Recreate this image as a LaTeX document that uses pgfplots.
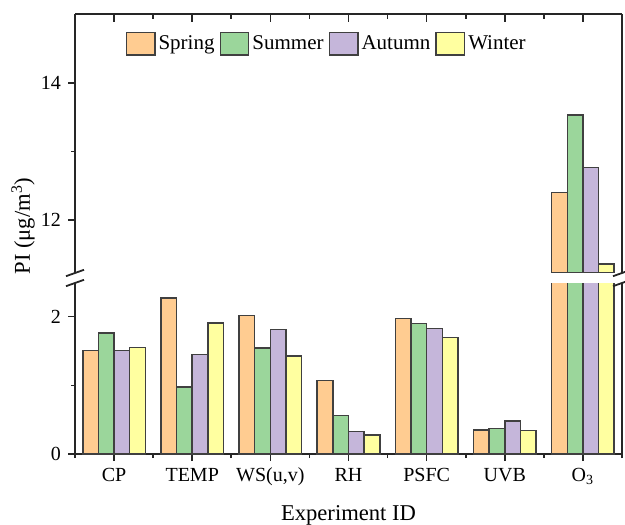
\documentclass[border=0pt]{standalone}
\usepackage{fontspec}
\setmainfont{Liberation Serif}
\usepackage{pgfplots}
\pgfplotsset{compat=1.18}
\definecolor{cspr}{RGB}{255,204,145}
\definecolor{csum}{RGB}{155,214,155}
\definecolor{caut}{RGB}{197,182,218}
\definecolor{cwin}{RGB}{255,255,160}
\begin{document}
\begin{tikzpicture}[x=1pt,y=1pt]
\useasboundingbox (-37.5pt,-35pt) rectangle (275pt,227pt);
\pgfplotsset{
  common/.style={scale only axis, width=273.5pt, xmin=-0.5, xmax=6.5,
    axis line style={line width=1.1pt, black!85},
    /pgf/number format/assume math mode=true,
    tick label style={font=\fontsize{10}{12}\selectfont},
    major tick length=3.5pt, minor tick length=2pt,
    tick style={line width=0.8pt, black!85},
  },
  lg/.style={legend image code/.code={\draw[##1, line width=0.7pt] (0pt,-5.65pt) rectangle (14.25pt,5.65pt);}},
  bs/.style={draw=black!75, line width=0.75pt},
}
% lower axis
\begin{axis}[common, ybar=0pt, bar width=0.2, at={(0pt,0pt)}, anchor=south west, height=85.5pt,
  ymin=0, ymax=2.49,
  axis x line*=bottom, axis y line*=box, ytick pos=left, tick align=outside,
  xtick={0,...,6},
  xticklabels={CP,TEMP,{WS(u,v)},RH,PSFC,UVB,O\textsubscript{3}},
  minor xtick={-0.5,0.5,...,6.5},
  ytick={0,2}, minor ytick={1},
  xlabel={Experiment ID},
  xlabel style={font=\fontsize{11.3}{13}\selectfont, yshift=-3pt}]
\addplot[bs, fill=cspr] coordinates {(0,1.51) (1,2.27) (2,2.02) (3,1.07) (4,1.97) (5,0.35) (6,12.40)};
\addplot[bs, fill=csum] coordinates {(0,1.76) (1,0.975) (2,1.54) (3,0.56) (4,1.90) (5,0.37) (6,13.53)};
\addplot[bs, fill=caut] coordinates {(0,1.51) (1,1.45) (2,1.81) (3,0.33) (4,1.83) (5,0.48) (6,12.77)};
\addplot[bs, fill=cwin] coordinates {(0,1.55) (1,1.91) (2,1.43) (3,0.28) (4,1.70) (5,0.34) (6,11.36)};
\end{axis}
% upper axis (bars, lines, legend, top ticks)
\begin{axis}[common, ybar=0pt, bar width=0.2, at={(0pt,90.5pt)}, anchor=south west, height=129.4pt,
  ymin=11.23, ymax=15,
  axis x line*=top, axis y line*=box,
  xtick=\empty, ytick=\empty,
  legend columns=4,
  legend style={at={(axis description cs:0.4583,0.886)}, anchor=center, draw=none, fill=none,
    inner sep=0pt,
    font=\fontsize{10.5}{12}\selectfont,
    nodes={inner xsep=0pt},
    /tikz/every odd column/.append style={column sep=1.5pt},
    /tikz/every even column/.append style={column sep=2.5pt}},
  legend cell align=left]
\addplot[bs, lg, fill=cspr] coordinates {(6,12.40)};
\addplot[bs, lg, fill=csum] coordinates {(6,13.53)};
\addplot[bs, lg, fill=caut] coordinates {(6,12.77)};
\addplot[bs, lg, fill=cwin] coordinates {(6,11.36)};
\legend{Spring,Summer,Autumn,Winter}
\pgfplotsinvokeforeach{0,1,2,3,4,5,6}{
  \draw[black!85, line width=0.8pt] (axis cs:#1,15) -- ([yshift=-4pt]axis cs:#1,15);
}
\pgfplotsinvokeforeach{0.5,1.5,2.5,3.5,4.5,5.5}{
  \draw[black!85, line width=0.8pt] (axis cs:#1,15) -- ([yshift=-2.2pt]axis cs:#1,15);
}
\end{axis}
% upper axis y ticks (outside)
\begin{axis}[common, at={(0pt,90.5pt)}, anchor=south west, height=129.4pt,
  ymin=11.23, ymax=15, hide x axis,
  axis y line*=left, tick align=outside,
  ytick={12,14}, minor ytick={13}]
\end{axis}
% axis break marks
\draw[line width=0.9pt, black!85] (-4.5pt,88.9pt) -- (4.5pt,92.1pt);
\draw[line width=0.9pt, black!85] (-4.5pt,83.9pt) -- (4.5pt,87.1pt);
\draw[line width=0.9pt, black!85] (269pt,88.9pt) -- (278pt,92.1pt);
\draw[line width=0.9pt, black!85] (269pt,83.9pt) -- (278pt,87.1pt);
\node[rotate=90, font=\fontsize{11.3}{13}\selectfont] at (-26pt,114pt) {PI (μg/m\textsuperscript{3})};
\end{tikzpicture}
\end{document}
